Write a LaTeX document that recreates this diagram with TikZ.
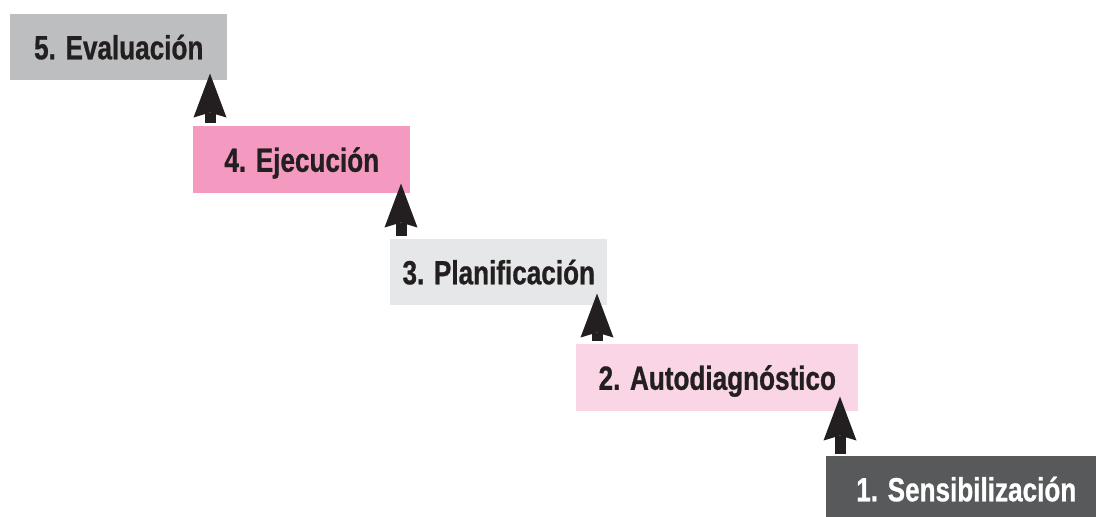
\documentclass[tikz,border=0pt]{standalone}
\usepackage{fontspec}
\newfontfamily\labelfont[FakeStretch=0.78,FakeBold=0.8]{Liberation Sans}
\usetikzlibrary{arrows.meta}
\definecolor{c5}{HTML}{BCBEC0}
\definecolor{c4}{HTML}{F49AC1}
\definecolor{c3}{HTML}{E6E7E8}
\definecolor{c2}{HTML}{F9D5E5}
\definecolor{c1}{HTML}{58595B}
\definecolor{ink}{HTML}{231F20}
\begin{document}
\begin{tikzpicture}[x=0.75pt,y=-0.75pt,
  box/.style={rectangle, inner sep=0pt, minimum height=49.5pt, anchor=north west,
    text height=18pt, text depth=0pt, text=ink,
    font=\labelfont\bfseries\fontsize{25.1}{29}\selectfont},
  arr/.style={draw=ink, line width=8.25pt, -{Stealth[length=33pt,width=24.75pt,inset=3.75pt,line width=0pt]}}]
\useasboundingbox (0,0) rectangle (1096,517);
\clip (0,0) rectangle (1096,517);
\node[box, fill=c5, minimum width=162.75pt] (b5) at (10,14) {5. Evaluación};
\node[box, fill=c4, minimum width=162.75pt, minimum height=50.25pt] (b4) at (193,126) {4. Ejecución};
\node[box, fill=c3, minimum width=162.75pt] (b3) at (390,239) {3. Planificación};
\node[box, fill=c2, minimum width=211.5pt, minimum height=50.25pt] (b2) at (576,344) {2. Autodiagnóstico};
\node[box, fill=c1, minimum width=210pt, text=white] (b1) at (826,456) {1. Sensibilización};
\draw[arr, shorten <=2.25pt, shorten >=-5.25pt] (b4.north -| 210,0) -- (b5.south -| 210,0);
\draw[arr, shorten <=2.25pt, shorten >=-7.5pt] (b3.north -| 401,0) -- (b4.south -| 401,0);
\draw[arr, shorten <=2.25pt, shorten >=-9pt] (b2.north -| 597,0) -- (b3.south -| 597,0);
\draw[arr, shorten <=1.5pt, shorten >=-11.25pt] (b1.north -| 840,0) -- (b2.south -| 840,0);
\end{tikzpicture}
\end{document}
